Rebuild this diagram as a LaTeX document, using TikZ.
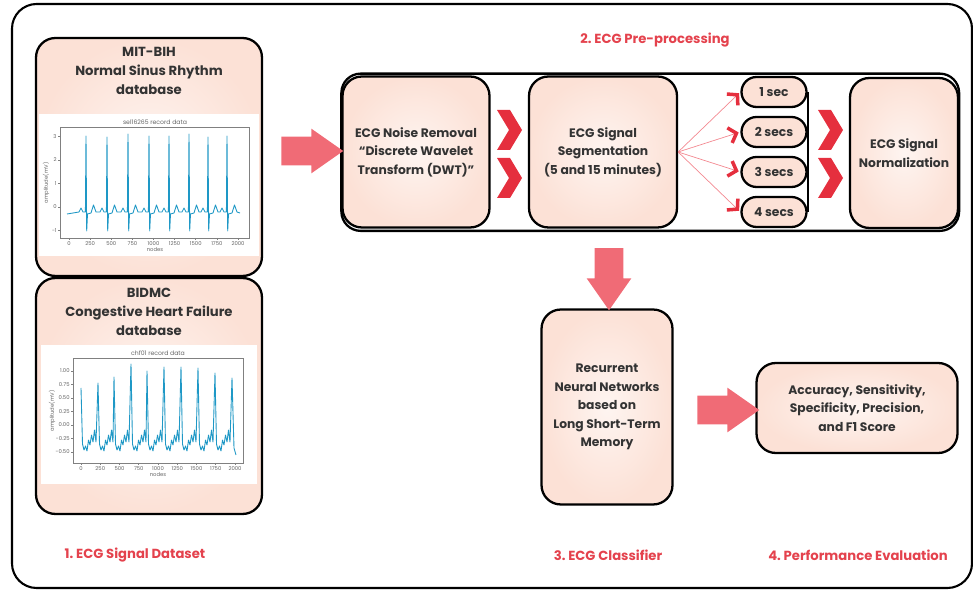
\documentclass[tikz,border=0pt]{standalone}
\usepackage{fontspec}
\setmainfont{Poppins}
\usepackage{tikz}
\usetikzlibrary{positioning, arrows.meta, shapes.arrows, shapes.misc, backgrounds}

\definecolor{peach}{HTML}{FCE1D6}
\definecolor{bigred}{HTML}{F06B76}
\definecolor{chevred}{HTML}{E52F3E}
\definecolor{labred}{HTML}{E4424D}
\definecolor{ecgblue}{HTML}{1E98C6}
\definecolor{txtgray}{HTML}{333333}

\begin{document}
\begin{tikzpicture}[x=0.02cm, y=-0.02cm,
  every node/.style={font=\fontsize{7}{10.5}\selectfont\bfseries, text=txtgray},
  box/.style={draw, line width=1.3pt, rounded corners=11pt, inner color=white!65!peach, outer color=peach, align=center, inner sep=0pt},
  pill/.style={rounded rectangle, draw, line width=1.3pt, fill=peach, minimum width=1.3cm, minimum height=0.6cm, inner sep=0pt},
  bigarrow/.style={single arrow, fill=bigred, minimum height=1.24cm, inner xsep=0pt, inner ysep=0.28cm, single arrow head extend=0.16cm, single arrow tip angle=70},
  steplabel/.style={text=labred, font=\fontsize{7.5}{9}\selectfont\bfseries},
  segarrow/.style={draw=bigred!80, line width=0.4pt, shorten >=1pt, -{Straight Barb[length=4pt, width=9pt, line width=2pt, color=chevred]}},
  tick/.style={font=\fontsize{3}{3.5}\selectfont, text=black!60, inner sep=0.6pt},
  chev/.pic={\fill[chevred] (0,0) -- (13,0) -- (25,20) -- (13,40) -- (0,40) -- (12,20) -- cycle;}
]
\useasboundingbox (0,0) rectangle (973,590);

% outer frame
\draw[line width=1.2pt, rounded corners=14pt] (12,4) rectangle (972,588);

% Define the nodes
\node[box, minimum width=4.52cm, minimum height=4.76cm] (mit) at (149,157) {};
\node[box, minimum width=4.52cm, minimum height=4.72cm] (bidmc) at (149,396) {};
\node[align=center, font=\fontsize{7.5}{10.8}\selectfont\bfseries] (mittitle) at (149,71) {MIT-BIH\\Normal Sinus Rhythm\\database};
\node[align=center, font=\fontsize{7.5}{10.8}\selectfont\bfseries] (bidmctitle) at (149,312) {BIDMC\\Congestive Heart Failure\\database};

\node[box, minimum width=2.94cm, minimum height=3.02cm] (noise) at (416,152) {ECG Noise Removal\\“Discrete Wavelet\\Transform (DWT)”};
\node[box, minimum width=2.96cm, minimum height=3.02cm] (seg) at (603,152) {ECG Signal\\Segmentation\\(5 and 15 minutes)};
\node[pill] (p1) at (774,92) {1 sec};
\node[pill] (p2) at (774,132) {2 secs};
\node[pill] (p3) at (774,172) {3 secs};
\node[pill] (p4) at (774,212) {4 secs};
\node[box, minimum width=2.16cm, minimum height=3.0cm] (norm) at (904,153) {ECG Signal\\Normalization};
\node[box, minimum width=2.62cm, minimum height=3.9cm] (rnn) at (607,407) {Recurrent\\Neural Networks\\based on\\Long Short-Term\\Memory};
\node[box, minimum width=4.02cm, minimum height=1.8cm] (perf) at (857,408) {Accuracy, Sensitivity,\\Specificity, Precision,\\and F1 Score};

\node[bigarrow] (feed) at (302,151) {};
\node[bigarrow, rotate=-90] (down) at (609,269) {};
\node[bigarrow] (eval) at (718,410) {};

\node[steplabel] (lab2) at (655,40) {2.\ ECG Pre-processing};
\node[steplabel] (lab1) at (135,555) {1.\ ECG Signal Dataset};
\node[steplabel] (lab3) at (608,555) {3.\ ECG Classifier};
\node[steplabel] (lab4) at (858,555) {4.\ Performance Evaluation};

% pre-processing frame
\begin{pgfonlayer}{background}
\draw[line width=1.3pt, rounded corners=11pt] ([yshift=1pt]noise.north west) rectangle ([yshift=-1pt]norm.south east);
\end{pgfonlayer}

% Draw the maps
\pic at (497,110) {chev};
\pic at (497,158) {chev};
\pic at (818,110) {chev};
\pic at (818,158) {chev};
\draw[segarrow] (seg.east) -- (p1.west);
\draw[segarrow] (seg.east) -- (p2.west);
\draw[segarrow] (seg.east) -- (p3.west);
\draw[segarrow] (seg.east) -- (p4.west);
\draw[line width=1.3pt] (p1.east) -- (p4.east);

% MIT-BIH record plot
\fill[white] (39,114) rectangle (259,256);
\draw[black!50, line width=0.3pt] (60,127) rectangle (249,238);
\node[tick, font=\fontsize{3.5}{4}\selectfont] (mitplot) at (155,122) {sel16265 record data};
\foreach \v/\y in {3/136.5, 2/160, 1/183.5, 0/207, -1/230.5} {
  \draw[black!50, line width=0.3pt] (60,\y) -- (58,\y);
  \node[tick, left] at (58,\y) {\v};
}
\foreach \n [count=\i from 0] in {0,250,500,750,1000,1250,1500,1750,2000} {
  \draw[black!50, line width=0.3pt] ({69+\i*21.125},238) -- ++(0,2);
  \node[tick, below] at ({69+\i*21.125},240) {\n};
}
\node[tick] (mitx) at (155,250) {nodes};
\node[tick, rotate=90] (mity) at (46,183) {amplitude(mV)};
\draw[ecgblue, line width=0.5pt, line join=round] (67,214)
  \foreach \s/\p in {86/136,107/137,128/134,149/136,169/136,189/134,208/137,227/136} {
    -- ({\s-7},212) -- ({\s-5},208) -- ({\s-3},212) -- ({\s-0.6},212) -- (\s,\p) -- ({\s+0.7},231) -- ({\s+1.5},214) -- ({\s+5},213) -- ({\s+7.5},205) -- ({\s+10},212)
  } -- (240,213);

% BIDMC record plot
\fill[white] (41,345) rectangle (257,484);
\draw[black!50, line width=0.3pt] (73,358) rectangle (243,463);
\node[tick, font=\fontsize{3.5}{4}\selectfont] (chfplot) at (158,353) {chf01 record data};
\foreach \v/\y in {1.00/371, 0.75/384.5, 0.50/398, 0.25/411.5, 0.00/425, -0.25/438.5, -0.50/452} {
  \draw[black!50, line width=0.3pt] (73,\y) -- (71,\y);
  \node[tick, left] at (71,\y) {\v};
}
\foreach \n [count=\i from 0] in {0,250,500,750,1000,1250,1500,1750,2000} {
  \draw[black!50, line width=0.3pt] ({81+\i*19.25},463) -- ++(0,2);
  \node[tick, below] at ({81+\i*19.25},465) {\n};
}
\node[tick] (chfx) at (158,475) {nodes};
\node[tick, rotate=90] (chfy) at (52,411) {amplitude(mV)};
\draw[ecgblue, line width=0.5pt, line join=round] (81,388)
  \foreach \s/\p in {81/388,98/383,114/377,131/364,147/371,164/367,181/367,198/368,215/373} {
    -- (\s,\p) -- ({\s+1.5},444) -- ({\s+3},450) -- ({\s+4.5},446) -- ({\s+6},451) -- ({\s+7.5},440) -- ({\s+9},445) -- ({\s+10.5},435) -- ({\s+12},442) -- ({\s+13.5},430) -- ({\s+15},442)
  } -- (232,378) -- (234,448) -- (236,455);
\end{tikzpicture}
\end{document}
